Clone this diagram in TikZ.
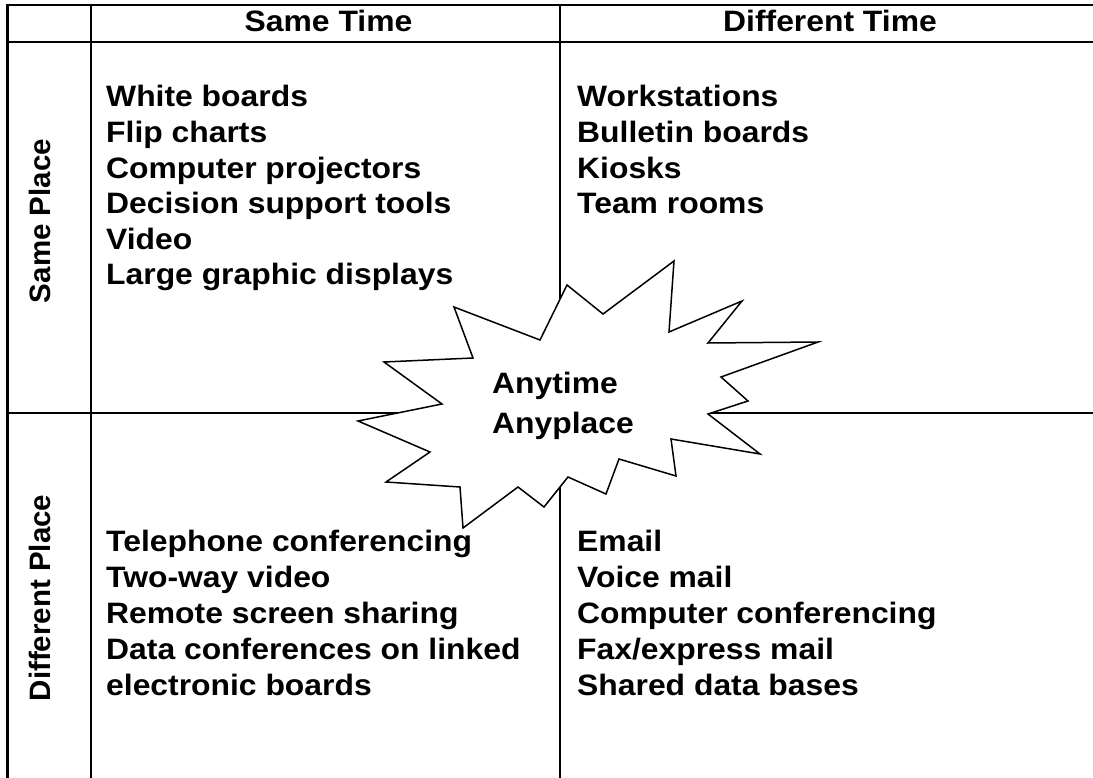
\documentclass[tikz,border=0pt]{standalone}
\usepackage{fontspec}
\setmainfont{Liberation Sans}
\newfontfamily\widesans[FakeStretch=1.08]{Liberation Sans}
\begin{document}
\begin{tikzpicture}[x=1pt,y=-1pt,
  grid/.style={line width=2.8pt},
  burst/.style={draw=black,fill=white,line width=1.5pt,line join=miter},
  entry/.style={anchor=base west,inner sep=0pt,font=\widesans\fontsize{29.5}{36}\selectfont\bfseries},
  head/.style={anchor=base,inner sep=0pt,font=\widesans\fontsize{29.5}{36}\selectfont\bfseries},
  side/.style={anchor=base,inner sep=0pt,rotate=90,font=\fontsize{29.5}{36}\selectfont\bfseries}]
\useasboundingbox[fill=white] (0,0) rectangle (1093,778);

% table rules
\draw[grid] (7.5,5) -- (1093,5);
\draw[grid] (7.5,42) -- (1093,42);
\draw[grid] (7.5,413) -- (1093,413);
\draw[grid] (7.5,3.6) -- (7.5,778);
\draw[grid] (91,5) -- (91,778);
\draw[grid] (560,5) -- (560,778);

% column and row headings
\node[head] (h1) at (328.5,32) {Same Time};
\node[head] (h2) at (830,32) {Different Time};
\node[side] (r1) at (50,221) {Same Place};
\node[side] (r2) at (50,598) {Different Place};

% same place, same time
\foreach \t [count=\i] in {White boards,Flip charts,Computer projectors,Decision support tools,Video,Large graphic displays}
  \node[entry] (a\i) at (106,{107+35.6*(\i-1)}) {\t};
% same place, different time
\foreach \t [count=\i] in {Workstations,Bulletin boards,Kiosks,Team rooms}
  \node[entry] (b\i) at (577,{107+35.6*(\i-1)}) {\t};
% different place, same time
\foreach \t [count=\i] in {Telephone conferencing,Two-way video,Remote screen sharing,Data conferences on linked,electronic boards}
  \node[entry] (c\i) at (106,{551+36.2*(\i-1)}) {\t};
% different place, different time
\foreach \t [count=\i] in {Email,Voice mail,Computer conferencing,Fax/express mail,Shared data bases}
  \node[entry] (d\i) at (577,{551+36.2*(\i-1)}) {\t};

% the burst in the middle
\draw[burst] (674,261) -- (669,332) -- (742,301) -- (708,343) -- (818,342)
  -- (721,377) -- (748,401) -- (708,414) -- (760,454) -- (671,439)
  -- (676,476) -- (619,459) -- (606,494) -- (568,477) -- (544,507)
  -- (518,487) -- (463,528) -- (460,487) -- (386,482) -- (430,452)
  -- (358,421) -- (442,404) -- (384,362) -- (473,358) -- (454,307)
  -- (540,340) -- (567,285) -- (603,314) -- cycle;
\node[entry] (any1) at (492,393) {Anytime};
\node[entry] (any2) at (492,433) {Anyplace};
\end{tikzpicture}
\end{document}
